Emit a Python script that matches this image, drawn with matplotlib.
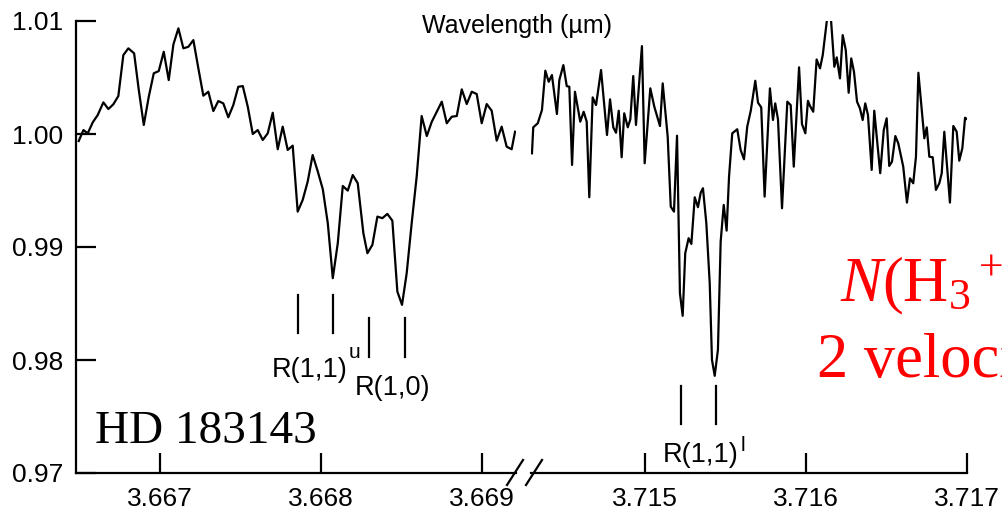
import matplotlib
matplotlib.use("Agg")
import matplotlib.pyplot as plt
from matplotlib.lines import Line2D

plt.rcParams['font.family'] = ['Liberation Sans', 'DejaVu Sans']
plt.rcParams['mathtext.fontset'] = 'custom'
plt.rcParams['mathtext.rm'] = 'Liberation Serif'
plt.rcParams['mathtext.it'] = 'Liberation Serif:italic'

# spectrum, blue piece (R(1,1)u / R(1,0) region)
wave_a = [
    3.666495, 3.666524, 3.666551, 3.666582, 3.666613, 3.666648, 3.666679, 3.666710, 3.666741, 3.666772,
    3.666803, 3.666839, 3.666868, 3.666899, 3.666930, 3.666961, 3.666992, 3.667023, 3.667054, 3.667083,
    3.667114, 3.667145, 3.667176, 3.667207, 3.667238, 3.667269, 3.667300, 3.667331, 3.667362, 3.667393,
    3.667424, 3.667455, 3.667486, 3.667514, 3.667545, 3.667576, 3.667607, 3.667638, 3.667669, 3.667700,
    3.667731, 3.667762, 3.667793, 3.667824, 3.667855, 3.667886, 3.667917, 3.667948, 3.667980, 3.668011,
    3.668042, 3.668073, 3.668104, 3.668135, 3.668166, 3.668197, 3.668228, 3.668263, 3.668288, 3.668319,
    3.668350, 3.668381, 3.668412, 3.668443, 3.668474, 3.668503, 3.668532, 3.668563, 3.668594, 3.668625,
    3.668657, 3.668688, 3.668719, 3.668750, 3.668781, 3.668812, 3.668843, 3.668874, 3.668905, 3.668936,
    3.668967, 3.668998, 3.669029, 3.669060, 3.669091, 3.669122, 3.669153, 3.669184, 3.669205,
]
flux_a = [
    0.99938, 1.00035, 1.00006, 1.00103, 1.00168, 1.00280, 1.00221, 1.00263, 1.00336, 1.00698,
    1.00758, 1.00714, 1.00389, 1.00080, 1.00330, 1.00537, 1.00557, 1.00728, 1.00477, 1.00793,
    1.00935, 1.00758, 1.00772, 1.00831, 1.00581, 1.00339, 1.00374, 1.00203, 1.00292, 1.00271,
    1.00148, 1.00256, 1.00418, 1.00424, 1.00241, 1.00000, 1.00035, 0.99947, 1.00006, 1.00188,
    0.99865, 1.00065, 0.99859, 0.99897, 0.99313, 0.99416, 0.99578, 0.99814, 0.99667, 0.99511,
    0.99210, 0.98724, 0.99034, 0.99540, 0.99499, 0.99637, 0.99564, 0.99122, 0.98945, 0.99019,
    0.99269, 0.99255, 0.99293, 0.99233, 0.98606, 0.98488, 0.98768, 0.99210, 0.99622, 1.00159,
    0.99982, 1.00109, 1.00197, 1.00286, 1.00095, 1.00153, 1.00159, 1.00395, 1.00265, 1.00374,
    1.00354, 1.00095, 1.00265, 1.00206, 0.99941, 1.00065, 0.99888, 0.99865, 1.00020,
]

# spectrum, red piece (R(1,1)l region)
wave_b = [
    3.714298, 3.714306, 3.714334, 3.714360, 3.714381, 3.714402, 3.714422, 3.714453, 3.714468, 3.714493,
    3.714514, 3.714530, 3.714547, 3.714565, 3.714598, 3.714619, 3.714638, 3.714654, 3.714675, 3.714696,
    3.714727, 3.714764, 3.714783, 3.714803, 3.714820, 3.714837, 3.714855, 3.714871, 3.714893, 3.714909,
    3.714927, 3.714944, 3.714981, 3.714998, 3.715033, 3.715058, 3.715093, 3.715110, 3.715141, 3.715160,
    3.715180, 3.715199, 3.715217, 3.715234, 3.715250, 3.715271, 3.715288, 3.715309, 3.715329, 3.715346,
    3.715360, 3.715381, 3.715402, 3.715416, 3.715433, 3.715453, 3.715470, 3.715489, 3.715507, 3.715522,
    3.715542, 3.715573, 3.715594, 3.715615, 3.715635, 3.715657, 3.715685, 3.715702, 3.715722, 3.715743,
    3.715776, 3.715795, 3.715809, 3.715826, 3.715851, 3.715884, 3.715905, 3.715924, 3.715957, 3.715975,
    3.715996, 3.716012, 3.716025, 3.716045, 3.716066, 3.716087, 3.716104, 3.716146, 3.716176, 3.716191,
    3.716211, 3.716228, 3.716247, 3.716265, 3.716281, 3.716298, 3.716317, 3.716335, 3.716352, 3.716368,
    3.716385, 3.716408, 3.716424, 3.716461, 3.716483, 3.716501, 3.716517, 3.716534, 3.716555, 3.716573,
    3.716604, 3.716627, 3.716646, 3.716666, 3.716683, 3.716698, 3.716719, 3.716735, 3.716750, 3.716766,
    3.716787, 3.716807, 3.716828, 3.716843, 3.716859, 3.716894, 3.716915, 3.716936, 3.716952, 3.716971,
    3.716988, 3.717002,
]
flux_b = [
    0.99829, 1.00059, 1.00095, 1.00212, 1.00560, 1.00462, 1.00522, 1.00177, 1.00477, 1.00610,
    1.00424, 1.00418, 0.99726, 1.00374, 1.00109, 1.00197, 1.00109, 0.99440, 1.00324, 1.00256,
    1.00566, 0.99991, 1.00307, 1.00059, 1.00011, 1.00206, 0.99794, 1.00183, 1.00059, 1.00130,
    1.00513, 1.00080, 1.00778, 0.99741, 1.00404, 1.00241, 1.00071, 1.00448, 0.99976, 0.99357,
    0.99313, 0.99985, 0.98591, 0.98391, 0.98945, 0.99078, 0.99027, 0.99440, 0.99352, 0.99481,
    0.99520, 0.99210, 0.98680, 0.98002, 0.97860, 0.98090, 0.99048, 0.99372, 0.99145, 0.99622,
    1.00006, 1.00042, 0.99859, 0.99776, 1.00065, 1.00206, 1.00471, 1.00277, 1.00236, 0.99446,
    1.00404, 1.00124, 1.00271, 1.00130, 0.99343, 1.00286, 1.00256, 0.99711, 1.00590, 1.00088,
    1.00006, 1.00294, 1.00248, 1.00197, 1.00660, 1.00581, 1.00698, 1.01200, 1.00595, 1.00678,
    1.00492, 1.00875, 1.00743, 1.00365, 1.00669, 1.00551, 1.00286, 1.00227, 1.00124, 1.00271,
    1.00168, 0.99682, 1.00206, 0.99653, 1.00035, 1.00139, 0.99717, 0.99755, 0.99982, 0.99918,
    0.99711, 0.99393, 0.99608, 0.99564, 0.99799, 1.00542, 1.00212, 0.99962, 1.00059, 0.99799,
    0.99794, 0.99505, 0.99564, 0.99653, 1.00020, 0.99393, 1.00071, 1.00020, 0.99764, 0.99874,
    1.00144, 1.00130,
]

ticks_a = [3.667, 3.668, 3.669]
ticks_b = [3.715, 3.716, 3.717]
yticks = [0.97, 0.98, 0.99, 1.00, 1.01]

# line identification marks: (wavelength, y_top, y_bottom)
marks_a = [(3.667857, 0.98576, 0.98240), (3.668075, 0.98576, 0.98240),
           (3.668298, 0.98373, 0.98028), (3.668522, 0.98373, 0.98028)]
marks_b = [(3.715224, 0.97772, 0.97436), (3.715441, 0.97772, 0.97436)]

W, H = 1003, 519
fig = plt.figure(figsize=(W / 100, H / 100), dpi=100)

def px_box(x0, x1, y_top, y_bot):
    return [x0 / W, (H - y_bot) / H, (x1 - x0) / W, (y_bot - y_top) / H]

ax1 = fig.add_axes(px_box(76, 516, 21, 473))
ax2 = fig.add_axes(px_box(531, 967, 21, 473))

lw = 1.6
ax1.plot(wave_a, flux_a, color='black', lw=lw)
ax2.plot(wave_b, flux_b, color='black', lw=lw)

ax1.set_xlim(3.666478, 3.669211)
ax2.set_xlim(3.714292, 3.717)
for ax in (ax1, ax2):
    ax.set_ylim(0.97, 1.01)
    ax.spines['top'].set_visible(False)
    ax.spines['right'].set_visible(False)
    for sp in ax.spines.values():
        sp.set_linewidth(lw)
    ax.tick_params(direction='in', length=14.5, width=lw, labelsize=19, pad=10)
    ax.tick_params(axis='y', pad=9)

ax1.set_xticks(ticks_a, [f'{t:.3f}' for t in ticks_a])
ax2.set_xticks(ticks_b, [f'{t:.3f}' for t in ticks_b])
ax1.set_yticks(yticks, [f'{t:.2f}' for t in yticks])
ax2.spines['left'].set_visible(False)
ax2.set_yticks([])

for x, y0, y1 in marks_a:
    ax1.plot([x, x], [y0, y1], color='black', lw=lw)
for x, y0, y1 in marks_b:
    ax2.plot([x, x], [y0, y1], color='black', lw=lw)

lab = dict(fontsize=19.5, va='baseline', ha='left')
ax1.text(3.667696, 0.97851, 'R(1,1)', **lab)
ax1.text(3.668170, 0.98019, 'u', fontsize=15, va='baseline', ha='left')
ax1.text(3.668211, 0.97692, 'R(1,0)', **lab)
ax2.text(3.715112, 0.97100, 'R(1,1)', **lab)
ax2.text(3.715595, 0.97197, 'l', fontsize=15, va='baseline', ha='left')

# axis break marks
for xc in (515, 534):
    fig.add_artist(Line2D([(xc - 8) / W, (xc + 8) / W], [(H - 485) / H, (H - 460) / H],
                          transform=fig.transFigure, color='black', lw=lw))

fig.text(517.5 / W, (H - 33) / H, 'Wavelength (µm)', fontsize=18, ha='center', va='baseline')
fig.text(95 / W, (H - 443) / H, 'HD 183143', fontsize=34, family='Liberation Serif',
         ha='left', va='baseline')
fig.text(840 / W, (H - 301) / H, r'$N$(H$_3$$^+$)', fontsize=45, family='Liberation Serif',
         color='red', ha='left', va='baseline')
fig.text(817 / W, (H - 377) / H, '2 velocity components', fontsize=45, family='Liberation Serif',
         color='red', ha='left', va='baseline')

fig.savefig('out.png', dpi=100)
